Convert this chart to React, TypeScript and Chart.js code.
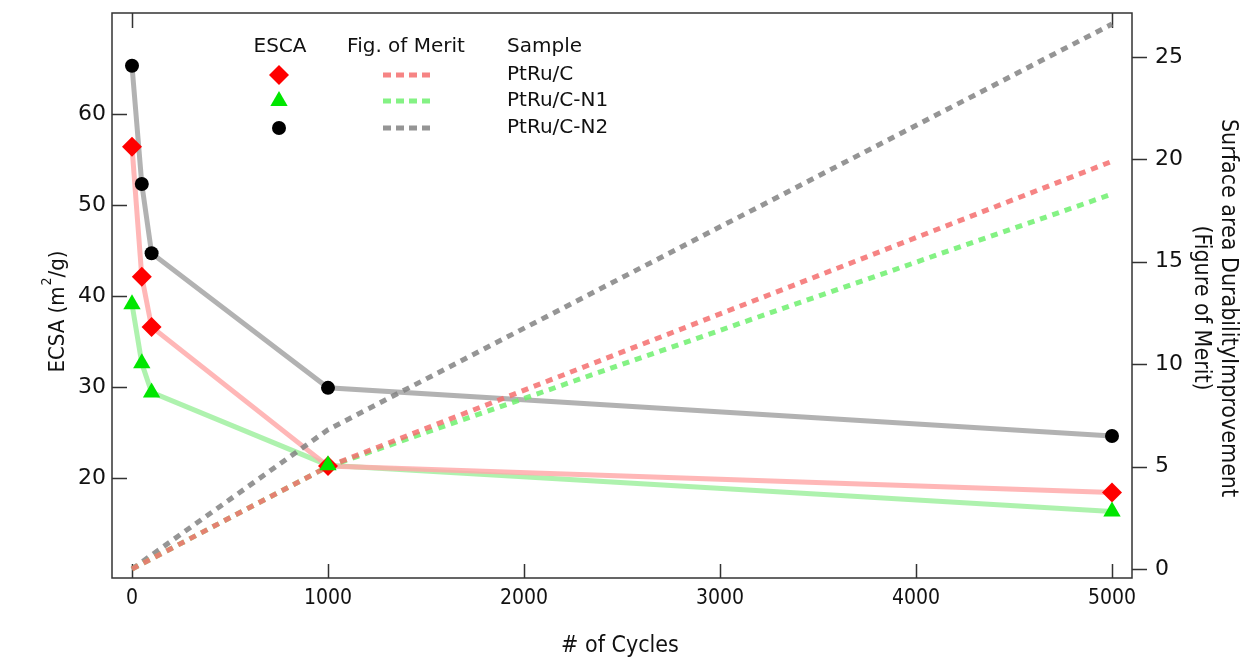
import React, { useEffect, useRef } from "react";
import { Chart, registerables } from "chart.js";

Chart.register(...registerables);

// ---- data ----
const cycles = [0, 50, 100, 1000, 5000];
const ecsaPtRuC = [56.4, 42.1, 36.6, 21.3, 18.4];
const ecsaPtRuCN1 = [39.1, 32.6, 29.4, 21.4, 16.3];
const ecsaPtRuCN2 = [65.3, 52.3, 44.7, 29.9, 24.6];

const fomCycles = [0, 1000, 5000];
const fomPtRuC = [0, 5.0, 19.9];
const fomPtRuCN1 = [0, 5.0, 18.3];
const fomPtRuCN2 = [0, 6.8, 26.6];

const sampleNames = ["PtRu/C", "PtRu/C-N1", "PtRu/C-N2"];
const legendHeaders = ["ESCA", "Fig. of Merit", "Sample"];
const xTickValues = [0, 1000, 2000, 3000, 4000, 5000];
const leftTickValues = [20, 30, 40, 50, 60];
const rightTickValues = [0, 5, 10, 15, 20, 25];
const xTitle = "# of Cycles";
const leftTitleParts = ["ECSA (m", "2", "/g)"];
const rightTitle1 = "Surface area DurabilityImprovement";
const rightTitle2 = "(Figure of Merit)";

const markerColors = ["#ff0000", "#00e600", "#000000"];
const lineColors = ["rgba(255,170,170,0.85)", "rgba(160,240,160,0.85)", "rgba(170,170,170,0.9)"];
const dashColors = ["rgba(245,110,110,0.85)", "rgba(110,240,110,0.85)", "rgba(130,130,130,0.85)"];
const markerStyles = ["rectRot", "triangle", "circle"] as const;
const markerRadii = [10, 10, 7];

const FONT = "'DejaVu Sans', 'Lucida Grande', sans-serif";
const FONT_COND = "'DejaVu Sans Condensed', 'Liberation Sans Narrow', 'DejaVu Sans', sans-serif";

function pts(xs: number[], ys: number[]) {
  return xs.map((x, i) => ({ x, y: ys[i] }));
}

function drawMarker(ctx: CanvasRenderingContext2D, style: string, x: number, y: number, r: number, color: string) {
  ctx.save();
  ctx.fillStyle = color;
  ctx.beginPath();
  if (style === "rectRot") {
    ctx.moveTo(x - r, y);
    ctx.lineTo(x, y - r);
    ctx.lineTo(x + r, y);
    ctx.lineTo(x, y + r);
    ctx.closePath();
  } else if (style === "triangle") {
    ctx.moveTo(x, y - r);
    ctx.lineTo(x + r * 0.866, y + r / 2);
    ctx.lineTo(x - r * 0.866, y + r / 2);
    ctx.closePath();
  } else {
    ctx.arc(x, y, r, 0, Math.PI * 2);
  }
  ctx.fill();
  ctx.restore();
}

const decorPlugin = {
  id: "decor",
  beforeDatasetsDraw(chart: any) {
    const { ctx, chartArea: a, scales } = chart;
    ctx.save();
    ctx.strokeStyle = "#333";
    ctx.lineWidth = 1.5;
    ctx.strokeRect(a.left, a.top, a.right - a.left, a.bottom - a.top);
    ctx.beginPath();
    leftTickValues.forEach((v) => {
      const y = Math.round(scales.y.getPixelForValue(v)) + 0.5;
      ctx.moveTo(a.left, y);
      ctx.lineTo(a.left + 15, y);
    });
    rightTickValues.forEach((v) => {
      const y = Math.round(scales.y2.getPixelForValue(v)) + 0.5;
      ctx.moveTo(a.right, y);
      ctx.lineTo(a.right + 15, y);
    });
    xTickValues.forEach((v) => {
      const x = Math.round(scales.x.getPixelForValue(v)) + 0.5;
      ctx.moveTo(x, a.bottom);
      ctx.lineTo(x, a.bottom - 14);
    });
    [xTickValues[0], xTickValues[xTickValues.length - 1]].forEach((v) => {
      const x = Math.round(scales.x.getPixelForValue(v)) + 0.5;
      ctx.moveTo(x, a.top);
      ctx.lineTo(x, a.top + 15);
    });
    ctx.stroke();
    ctx.restore();
  },
  afterDraw(chart: any) {
    const { ctx } = chart;
    ctx.save();
    ctx.fillStyle = "#111";
    // x title
    ctx.font = `23px ${FONT_COND}`;
    ctx.textAlign = "center";
    ctx.textBaseline = "middle";
    ctx.fillText(xTitle, 620, 646);
    // left title with superscript
    ctx.save();
    ctx.translate(58, 312);
    ctx.rotate(-Math.PI / 2);
    const big = `22px ${FONT_COND}`;
    const small = `14px ${FONT_COND}`;
    ctx.font = big;
    const w0 = ctx.measureText(leftTitleParts[0]).width;
    const w2 = ctx.measureText(leftTitleParts[2]).width;
    ctx.font = small;
    const w1 = ctx.measureText(leftTitleParts[1]).width;
    const x0 = -(w0 + w1 + w2) / 2;
    ctx.textAlign = "left";
    ctx.font = big;
    ctx.fillText(leftTitleParts[0], x0, 0);
    ctx.font = small;
    ctx.fillText(leftTitleParts[1], x0 + w0 + 1, -11);
    ctx.font = big;
    ctx.fillText(leftTitleParts[2], x0 + w0 + w1 + 1, 0);
    ctx.restore();
    // right title
    ctx.save();
    ctx.translate(1228, 308);
    ctx.rotate(Math.PI / 2);
    ctx.textAlign = "center";
    ctx.font = `23px ${FONT_COND}`;
    ctx.fillText(rightTitle1, 0, 0);
    ctx.fillText(rightTitle2, 0, 27);
    ctx.restore();

    // legend
    ctx.font = `20px ${FONT}`;
    ctx.textBaseline = "middle";
    ctx.textAlign = "center";
    ctx.fillText(legendHeaders[0], 280, 47);
    ctx.fillText(legendHeaders[1], 406, 47);
    ctx.textAlign = "left";
    ctx.fillText(legendHeaders[2], 507, 47);
    const rowY = [75, 101, 128];
    sampleNames.forEach((name, i) => {
      const y = rowY[i];
      drawMarker(ctx, markerStyles[i], 279, y, markerRadii[i], markerColors[i]);
      ctx.save();
      ctx.strokeStyle = dashColors[i];
      ctx.lineWidth = 5;
      ctx.setLineDash([8, 5]);
      ctx.beginPath();
      ctx.moveTo(383, y);
      ctx.lineTo(431, y);
      ctx.stroke();
      ctx.restore();
      ctx.fillStyle = "#111";
      ctx.fillText(name, 507, y);
    });
    ctx.restore();
  },
};

export default function App() {
  const ref = useRef<HTMLCanvasElement | null>(null);
  useEffect(() => {
    if (!ref.current) return;
    const escaSeries = [ecsaPtRuC, ecsaPtRuCN1, ecsaPtRuCN2];
    const fomSeries = [fomPtRuC, fomPtRuCN1, fomPtRuCN2];
    const datasets: any[] = [];
    escaSeries.forEach((s, i) => {
      datasets.push({
        label: sampleNames[i] + " ESCA line",
        data: pts(cycles, s),
        yAxisID: "y",
        borderColor: lineColors[i],
        borderWidth: 5,
        pointRadius: 0,
        order: 10,
      });
    });
    fomSeries.forEach((s, i) => {
      datasets.push({
        label: sampleNames[i] + " Fig. of Merit",
        data: pts(fomCycles, s),
        yAxisID: "y2",
        borderColor: dashColors[i],
        borderWidth: 5,
        borderDash: [7, 6],
        pointRadius: 0,
        order: 5,
      });
    });
    [2, 0, 1].forEach((i, k) => {
      datasets.push({
        label: sampleNames[i] + " ESCA",
        data: pts(cycles, escaSeries[i]),
        yAxisID: "y",
        showLine: false,
        pointStyle: markerStyles[i],
        pointRadius: markerRadii[i],
        pointBackgroundColor: markerColors[i],
        pointBorderColor: markerColors[i],
        pointBorderWidth: 0,
        order: 3 - k,
      });
    });

    const zeroPad = (s: any) => {
      s.paddingTop = 0;
      s.paddingBottom = 0;
      s.paddingLeft = 0;
      s.paddingRight = 0;
    };

    const chart = new Chart(ref.current, {
      type: "line",
      data: { datasets },
      plugins: [decorPlugin],
      options: {
        animation: false,
        responsive: false,
        layout: { padding: { top: 13, left: 0, right: 0, bottom: 0 } },
        plugins: { legend: { display: false }, tooltip: { enabled: false } },
        scales: {
          x: {
            type: "linear",
            min: -102,
            max: 5102,
            afterBuildTicks: (s: any) => {
              s.ticks = xTickValues.map((v) => ({ value: v }));
            },
            afterFit: (s: any) => {
              s.height = 82;
              zeroPad(s);
            },
            grid: { display: false, drawTicks: false },
            border: { display: false },
            ticks: {
              color: "#111",
              padding: 8,
              maxRotation: 0,
              font: { family: FONT_COND, size: 21 },
              callback: (v: any) => String(v),
            },
          },
          y: {
            type: "linear",
            position: "left",
            min: 9,
            max: 71.1,
            afterBuildTicks: (s: any) => {
              s.ticks = leftTickValues.map((v) => ({ value: v }));
            },
            afterFit: (s: any) => {
              s.width = 112;
              zeroPad(s);
            },
            grid: { display: false, drawTicks: false },
            border: { display: false },
            ticks: { color: "#111", padding: 6, font: { family: FONT, size: 22 }, callback: (v: any) => String(v) },
          },
          y2: {
            type: "linear",
            position: "right",
            min: -0.44,
            max: 27.14,
            afterBuildTicks: (s: any) => {
              s.ticks = rightTickValues.map((v) => ({ value: v }));
            },
            afterFit: (s: any) => {
              s.width = 122;
              zeroPad(s);
            },
            grid: { display: false, drawTicks: false },
            border: { display: false },
            ticks: { color: "#111", padding: 23, font: { family: FONT, size: 22 }, callback: (v: any) => String(v) },
          },
        },
      },
    });
    return () => chart.destroy();
  }, []);

  return (
    <div style={{ position: "absolute", left: 0, top: 0, width: 1254, height: 660, background: "#fff" }}>
      <canvas ref={ref} width={1254} height={660} style={{ display: "block" }} />
    </div>
  );
}
